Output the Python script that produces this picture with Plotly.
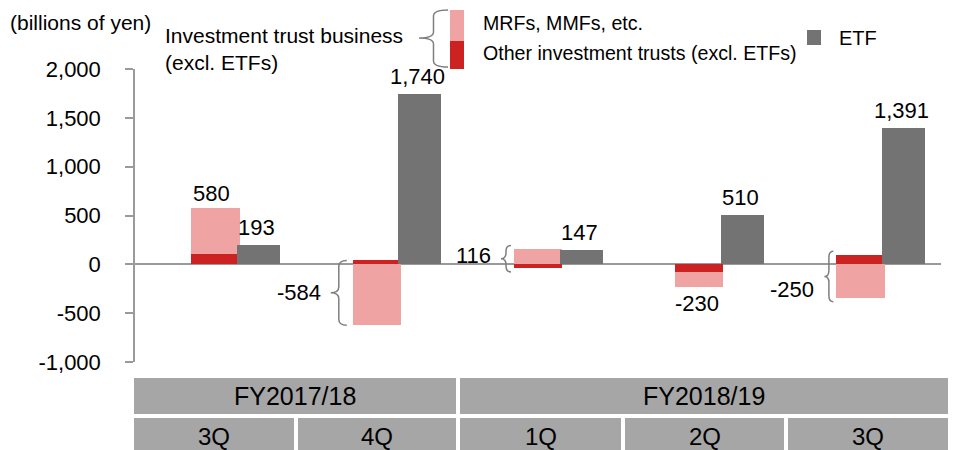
import plotly.graph_objects as go

# ---------------- data ----------------
fiscal_years = ["FY2017/18", "FY2018/19"]
quarters = ["3Q", "4Q", "1Q", "2Q", "3Q"]
mrf_mmf = [470, -624, 153, -152, -343]          # MRFs, MMFs, etc.
other_trusts = [110, 40, -37, -78, 93]          # Other investment trusts (excl. ETFs)
etf = [193, 1740, 147, 510, 1391]               # ETF
inv_total_labels = ["580", "-584", "116", "-230", "-250"]
etf_labels = ["193", "1,740", "147", "510", "1,391"]
y_ticks = [-1000, -500, 0, 500, 1000, 1500, 2000]
y_tick_labels = ["-1,000", "-500", "0", "500", "1,000", "1,500", "2,000"]

# ---------------- styles / geometry ----------------
FONT = "Liberation Sans, Arial, sans-serif"
PINK = "#F0A3A3"
RED = "#CC2222"
GREY_BAR = "#737373"
AXIS_GREY = "#9a9a9a"
BRACE_GREY = "#7f7f7f"
TABLE_GREY = "#A6A6A6"

W, H = 970, 450
L, R, T, B = 135, 941, 69, 362
Y0, Y1 = -1000, 2000
NCAT = len(quarters)
PX_PER_X = (R - L) / NCAT
PX_PER_Y = (B - T) / (Y1 - Y0)

BAR_W = 0.30
ETF_SHIFT = 0.267
ETF_W = 0.267


def px2x(px):
    return (px - L) / (R - L)


def py2y(py):
    return (B - py) / (B - T)


def brace(xt, xa, yt, yb, ym, ry):
    """Left-pointing curly brace. y axis points up; yt > yb."""
    xm = (xt + xa) / 2
    return (f"M {xa},{yt} Q {xm},{yt} {xm},{yt - ry} "
            f"L {xm},{ym + ry} Q {xm},{ym} {xt},{ym} "
            f"Q {xm},{ym} {xm},{ym - ry} "
            f"L {xm},{yb + ry} Q {xm},{yb} {xa},{yb}")


positions = list(range(NCAT))
etf_x = [p + ETF_SHIFT for p in positions]

fig = go.Figure()
fig.add_trace(go.Bar(x=positions, y=other_trusts, width=BAR_W, marker_color=RED,
                     marker_line_width=0, name="Other investment trusts (excl. ETFs)"))
fig.add_trace(go.Bar(x=positions, y=mrf_mmf, width=BAR_W, marker_color=PINK,
                     marker_line_width=0, name="MRFs, MMFs, etc."))
fig.add_trace(go.Bar(x=etf_x, y=etf, width=ETF_W, marker_color=GREY_BAR,
                     marker_line_width=0, name="ETF"))

shapes = []
annotations = []

# ETF value labels
for xe, v, t in zip(etf_x, etf, etf_labels):
    annotations.append(dict(x=xe, y=v, xref="x", yref="y", text=t, showarrow=False,
                            yanchor="bottom", xanchor="center", xshift=-2, yshift=3,
                            font=dict(size=22, color="#000", family=FONT)))

# investment trust totals
brace_style = {1: (-46, -30, 0), 2: (-37, -27, 3), 4: (-36, -27, -13)}
pad_units = 4 / PX_PER_Y
ry_units = 6 / PX_PER_Y
for i, (a, b, t) in enumerate(zip(other_trusts, mrf_mmf, inv_total_labels)):
    top = max(a, 0) + max(b, 0)
    bot = min(a, 0) + min(b, 0)
    if i == 0:
        annotations.append(dict(x=i, y=top, xref="x", yref="y", text=t, showarrow=False,
                                yanchor="bottom", xanchor="center", xshift=-4, yshift=0,
                                font=dict(size=22, color="#000", family=FONT)))
    elif i == 3:
        annotations.append(dict(x=i, y=bot, xref="x", yref="y", text=t, showarrow=False,
                                yanchor="top", xanchor="center", xshift=-2, yshift=-2,
                                font=dict(size=22, color="#000", family=FONT)))
    else:
        tip_px, arm_px, ysh = brace_style[i]
        bt = top + pad_units if i != 1 else top
        bb = bot - pad_units if i != 1 else bot
        ym = (bt + bb) / 2
        xt = i + tip_px / PX_PER_X
        xa = i + arm_px / PX_PER_X
        shapes.append(dict(type="path", xref="x", yref="y",
                           path=brace(xt, xa, bt, bb, ym, ry_units),
                           line=dict(color=BRACE_GREY, width=1.5)))
        annotations.append(dict(x=xt - 8 / PX_PER_X, y=ym, xref="x", yref="y", text=t,
                                showarrow=False, yanchor="middle", xanchor="right", yshift=ysh,
                                font=dict(size=22, color="#000", family=FONT)))

# ---------------- legend (manual) ----------------
def ptext(text, px, py, size=20, xanchor="left"):
    annotations.append(dict(x=px2x(px), y=py2y(py), xref="paper", yref="paper", text=text,
                            showarrow=False, xanchor=xanchor, yanchor="middle",
                            font=dict(size=size, color="#000", family=FONT)))


def prect(x0, y0, x1, y1, color):
    shapes.append(dict(type="rect", xref="paper", yref="paper",
                       x0=px2x(x0), x1=px2x(x1), y0=py2y(y1), y1=py2y(y0),
                       fillcolor=color, line=dict(width=0), layer="above"))


ptext("(billions of yen)", 8, 22, size=21)
ptext("Investment trust business", 163, 35, size=21)
ptext("(excl. ETFs)", 163, 63, size=21)
shapes.append(dict(type="path", xref="paper", yref="paper",
                   path=brace(px2x(419), px2x(448), py2y(10), py2y(67), py2y(38),
                              6 / (B - T)),
                   line=dict(color=BRACE_GREY, width=1.5)))
prect(450, 10, 464, 41, PINK)
prect(450, 41, 464, 69, RED)
ptext("MRFs, MMFs, etc.", 481, 23, size=19.6)
ptext("Other investment trusts (excl. ETFs)", 481, 53, size=19.6)
prect(807, 30, 821, 45, GREY_BAR)
ptext("ETF", 837, 38, size=20)

# ---------------- category table ----------------
fy_cells = [(134, 456), (460, 948)]
q_cells = [(134, 294), (298, 456), (460, 621), (625, 784), (788, 948)]
for (x0, x1), lab in zip(fy_cells, fiscal_years):
    prect(x0, 378, x1, 414, TABLE_GREY)
    ptext(lab, (x0 + x1) / 2, 396, size=25, xanchor="center")
for (x0, x1), lab in zip(q_cells, quarters):
    prect(x0, 418, x1, 456, TABLE_GREY)
    ptext(lab, (x0 + x1) / 2, 436, size=24, xanchor="center")

fig.update_layout(
    width=W, height=H,
    margin=dict(l=L, r=W - R, t=T, b=H - B, pad=0),
    paper_bgcolor="white", plot_bgcolor="white",
    barmode="relative", bargap=0,
    showlegend=False,
    font=dict(family=FONT, color="#000"),
    shapes=shapes, annotations=annotations,
    hovermode=False,
    xaxis=dict(range=[-0.5, NCAT - 0.5], showticklabels=False, showgrid=False,
               zeroline=False, showline=False, ticks="", fixedrange=True),
    yaxis=dict(range=[Y0, Y1], tickvals=y_ticks, ticktext=y_tick_labels,
               showgrid=False, zeroline=True, zerolinecolor=AXIS_GREY, zerolinewidth=1.5,
               showline=True, linecolor=AXIS_GREY, linewidth=1.5,
               ticks="outside", ticklen=8, tickwidth=1.5, tickcolor=AXIS_GREY,
               ticklabelstandoff=20,
               tickfont=dict(size=22, color="#000", family=FONT), fixedrange=True),
)

fig.write_html(
    "out.html",
    config={"displayModeBar": False},
    post_script="document.body.style.margin='0';document.body.style.overflow='hidden';",
)
